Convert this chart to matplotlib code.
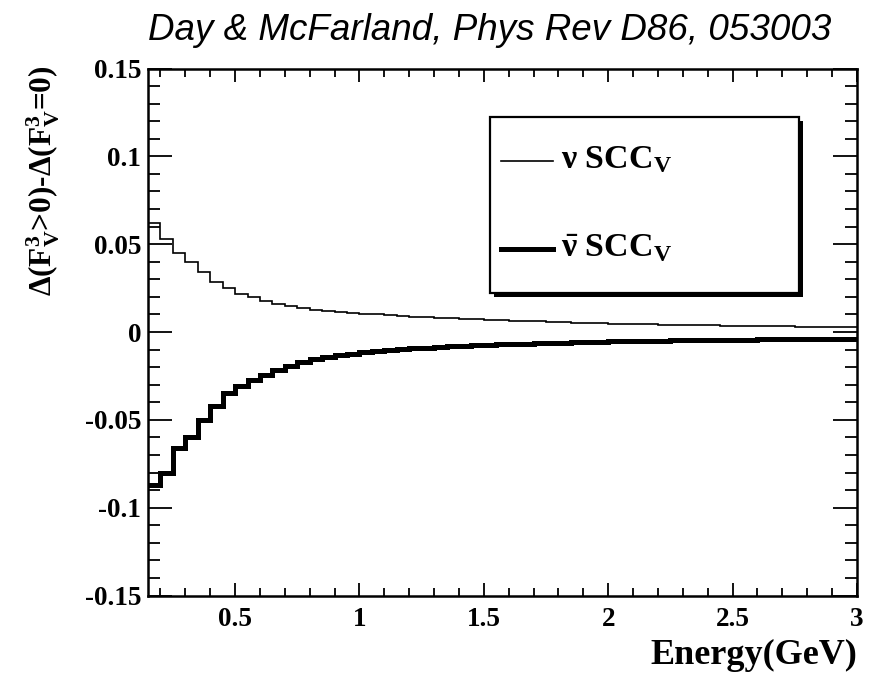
import numpy as np
import matplotlib
matplotlib.use("Agg")
import matplotlib.pyplot as plt
from matplotlib.patches import Rectangle
from matplotlib.lines import Line2D
from matplotlib.ticker import MultipleLocator, FixedLocator

plt.rcParams['mathtext.fontset'] = 'custom'
plt.rcParams['mathtext.rm'] = 'Liberation Serif:bold'
plt.rcParams['mathtext.it'] = 'Liberation Serif:bold'
plt.rcParams['mathtext.bf'] = 'Liberation Serif:bold'
plt.rcParams['mathtext.sf'] = 'Liberation Serif:bold'

# ---- data ----
bin_lo, bin_hi, n_bins = 0.15, 3.0, 57
bin_edges = np.linspace(bin_lo, bin_hi, n_bins + 1)

nu_scc = [0.062, 0.053, 0.045, 0.040, 0.034, 0.0286, 0.0251, 0.0219, 0.0197, 0.0177,
          0.0160, 0.0147, 0.0136, 0.0128, 0.0120, 0.0115, 0.0110, 0.0105, 0.0100, 0.0096,
          0.0092, 0.0088, 0.0085, 0.0081, 0.0078, 0.0075, 0.0072, 0.0069, 0.0067, 0.0064,
          0.0062, 0.0060, 0.0058, 0.0056, 0.0054, 0.0052, 0.0050, 0.0048, 0.0047, 0.0045,
          0.0044, 0.0042, 0.0041, 0.0040, 0.0039, 0.0038, 0.0037, 0.0036, 0.0035, 0.0034,
          0.0033, 0.0032, 0.0031, 0.0030, 0.0029, 0.0028, 0.0027]

nubar_scc = [-0.087, -0.080, -0.066, -0.060, -0.050, -0.042, -0.035, -0.0305, -0.0272, -0.0244,
             -0.0215, -0.0192, -0.0172, -0.0156, -0.0142, -0.0132, -0.0123, -0.0116, -0.0109, -0.0103,
             -0.0098, -0.0093, -0.0089, -0.0085, -0.0082, -0.0079, -0.0076, -0.0073, -0.0071, -0.0068,
             -0.0066, -0.0064, -0.0062, -0.0060, -0.0058, -0.0057, -0.0055, -0.0054, -0.0052, -0.0051,
             -0.0050, -0.0049, -0.0048, -0.0047, -0.0046, -0.0045, -0.0044, -0.0044, -0.0043, -0.0042,
             -0.0042, -0.0041, -0.0041, -0.0040, -0.0040, -0.0039, -0.0039]

x_ticks = [0.5, 1.0, 1.5, 2.0, 2.5, 3.0]
x_tick_labels = ['0.5', '1', '1.5', '2', '2.5', '3']
y_ticks = [-0.15, -0.1, -0.05, 0.0, 0.05, 0.1, 0.15]
y_tick_labels = ['-0.15', '-0.1', '-0.05', '0', '0.05', '0.1', '0.15']
legend_labels = [r'$\nu$ SCC$_\mathrm{V}$', r'$\bar{\nu}$ SCC$_\mathrm{V}$']

W, H = 873, 678
fig = plt.figure(figsize=(W / 100, H / 100), dpi=100)
L, R, T, B = 148, 857, 68.5, 595.5
ax = fig.add_axes([L / W, 1 - B / H, (R - L) / W, (B - T) / H])

ax.stairs(nu_scc, bin_edges, color='black', lw=1.2, baseline=None)
ax.stairs(nubar_scc, bin_edges, color='black', lw=3.6, baseline=None)

ax.set_xlim(0.15, 3.0)
ax.set_ylim(-0.15, 0.15)

for s in ax.spines.values():
    s.set_linewidth(1.8)

ax.xaxis.set_major_locator(FixedLocator(x_ticks))
ax.set_xticklabels(x_tick_labels)
ax.xaxis.set_minor_locator(MultipleLocator(0.1))
ax.yaxis.set_major_locator(FixedLocator(y_ticks))
ax.set_yticklabels(y_tick_labels)
ax.yaxis.set_minor_locator(MultipleLocator(0.01))

ax.tick_params(axis='both', which='both', direction='in', top=True, right=True, color='black')
ax.tick_params(axis='y', which='major', length=17, width=1.3, pad=5)
ax.tick_params(axis='y', which='minor', length=8.5, width=1.3)
ax.tick_params(axis='x', which='major', length=9.5, width=1.3, pad=8)
ax.tick_params(axis='x', which='minor', length=5.5, width=1.3)
for lab in ax.get_xticklabels() + ax.get_yticklabels():
    lab.set_fontfamily('Liberation Serif')
    lab.set_fontweight('bold')
    lab.set_fontsize(19.5)

# legend (manual box with shadow)
bx0, by0, bx1, by1 = 490, 117, 799, 293
sh = 4
fig.patches.append(Rectangle(((bx0 + sh) / W, 1 - (by1 + sh) / H), (bx1 - bx0) / W, (by1 - by0) / H,
                             transform=fig.transFigure, facecolor='black', edgecolor='none', zorder=5))
fig.patches.append(Rectangle((bx0 / W, 1 - by1 / H), (bx1 - bx0) / W, (by1 - by0) / H,
                             transform=fig.transFigure, facecolor='white', edgecolor='black', lw=1.6, zorder=6))
for lbl, lw, yy in zip(legend_labels, [1.2, 3.6], [161, 249]):
    fig.add_artist(Line2D([501 / W, 553 / W], [1 - yy / H, 1 - yy / H], transform=fig.transFigure,
                          color='black', lw=lw, zorder=7))
    fig.text(561 / W, 1 - (yy - 1) / H, lbl, family='Liberation Serif', weight='bold',
             fontsize=24.5, ha='left', va='center', zorder=8)

# axis labels
fig.text(857 / W, 1 - 655 / H, 'Energy(GeV)', family='Liberation Serif', weight='bold',
         fontsize=26, ha='right', va='center')
fig.text(43 / W, 1 - 181 / H, r'Δ(F$_\mathrm{V}^\mathrm{3}$>0)-Δ(F$_\mathrm{V}^\mathrm{3}$=0)',
         family='Liberation Serif', weight='bold',
         rotation=90, fontsize=22.5, ha='center', va='center')

# title
fig.text(490 / W, 1 - 31 / H, 'Day & McFarland, Phys Rev D86, 053003',
         family='Liberation Sans', style='italic',
         fontsize=26.5, ha='center', va='center')

fig.savefig('out.png', dpi=100)
